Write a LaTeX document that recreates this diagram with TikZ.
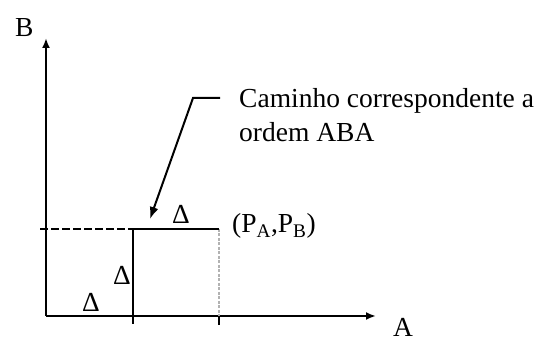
\documentclass[tikz,border=0pt]{standalone}
\usepackage{fontspec}
\setmainfont{Liberation Serif}
\usetikzlibrary{arrows.meta}
\begin{document}
\begin{tikzpicture}[x=1pt,y=-1pt,
  txt/.style={inner sep=0pt,anchor=base west,font=\fontsize{27.5}{34}\selectfont},
  axis/.style={line width=2pt,-{Latex[length=10pt,width=8pt]}},
  pathline/.style={line width=1.8pt},
  dashline/.style={line width=1.8pt,dash pattern=on 8pt off 3pt},
  greydash/.style={line width=1.8pt,gray!60,dash pattern=on 3pt off 1.5pt}]
\useasboundingbox (0,0) rectangle (547,344);
\coordinate (O) at (46,316);
\coordinate (Btop) at (46,38);
\coordinate (Aend) at (376,316);
\coordinate (L) at (40,229);
\coordinate (M) at (133,229);
\coordinate (P) at (219,229);
\coordinate (Mb) at (133,324);
\coordinate (Pb) at (219,316);
\coordinate (Pt) at (219,325);
\coordinate (K1) at (220,98);
\coordinate (K2) at (193,98);
\coordinate (T) at (150,219);
% axes
\draw[axis] (O) -- (Btop);
\draw[axis] (O) -- (Aend);
% dashed line
\draw[dashline] (L) -- (M);
\draw[greydash] (P) -- (Pb);
\draw[pathline] (M) -- (P);
\draw[pathline] (M) -- (Mb);
\draw[line width=1.4pt] (Pb) -- (Pt);
% callout
\draw[line width=2pt,-{Latex[length=12pt,width=9pt]}] (K1) -- (K2) -- (T);
% labels
\node[txt] (Blab) at (15,37) {B};
\node[txt] (Alab) at (393,337) {A};
\node[txt] (d1) at (82,312) {Δ};
\node[txt] (d2) at (113,285) {Δ};
\node[txt] (d3) at (172,224) {Δ};
\node[txt] (pab) at (232,233) {(P\textsubscript{A},P\textsubscript{B})};
\node[txt,align=left] (cap) at (239,142) {Caminho correspondente a\\ordem ABA};
\end{tikzpicture}
\end{document}
